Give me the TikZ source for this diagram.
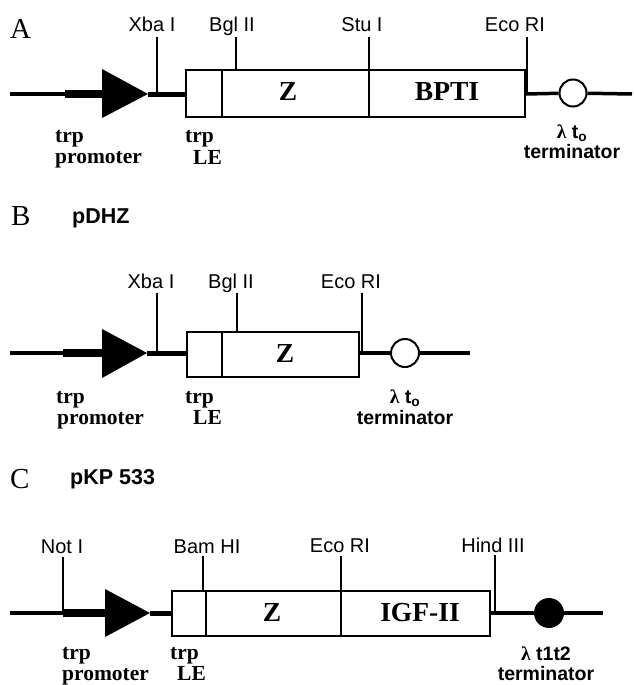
\documentclass[tikz,border=0pt]{standalone}
\usepackage{fontspec}
\usepackage{tikz}
\setmainfont{Liberation Serif}
\setsansfont{Liberation Sans}
\newcommand{\lamt}{{\rmfamily λ}~t\textsubscript{o}}

\begin{document}
\begin{tikzpicture}[x=1pt, y=-1pt,
    site/.style={font=\sffamily\fontsize{20}{20}\selectfont, anchor=base, inner sep=0pt},
    tag/.style={font=\bfseries\fontsize{21.5}{21.5}\selectfont, anchor=base west, inner sep=0pt},
    term/.style={font=\sffamily\bfseries\fontsize{19.5}{19.5}\selectfont, anchor=base, inner sep=0pt},
    gene/.style={font=\bfseries\fontsize{27.5}{27.5}\selectfont, anchor=base, inner sep=0pt},
    panel/.style={font=\fontsize{29}{29}\selectfont, anchor=base west, inner sep=0pt},
    title/.style={font=\sffamily\bfseries\fontsize{21.5}{21.5}\selectfont, anchor=base west, inner sep=0pt},
    dna/.style={line width=3.5pt},
    bar/.style={line width=8pt},
    link/.style={line width=5pt},
    box/.style={line width=2pt},
    tick/.style={line width=1.8pt},
    openterm/.style={circle, draw, line width=2pt, fill=white, minimum size=27pt, inner sep=0pt},
    fullterm/.style={circle, fill=black, minimum size=30pt, inner sep=0pt}]
  \useasboundingbox (0,0) rectangle (633,685);

  % ---------- A ----------
  \node[panel] (lA) at (10,38) {A};
  % backbone and promoter
  \coordinate (sA) at (10,94);
  \coordinate (pA) at (65,94);
  \coordinate (bA) at (102,94);
  \coordinate (tipA) at (148,94);
  \coordinate (eA) at (632,94);
  \draw[dna] (sA) -- (pA);
  \draw[bar] (pA) -- (bA);
  \fill (102,69) -- (102,118) -- (tipA) -- cycle;
  \draw[link] (tipA) -- (186,94);
  % gene box
  \draw[box] (186,70) rectangle (525,117);
  \draw[box] (222,70) -- (222,117);
  \node[gene] (zA) at (288,100) {Z};
  \node[gene] (bpti) at (447,100) {BPTI};
  % sites
  \node[site] (xbaA) at (152,32) {Xba I};
  \node[site] (bglA) at (232,32) {Bgl II};
  \node[site] (stuA) at (362,32) {Stu I};
  \node[site] (ecoA) at (515,32) {Eco RI};
  \draw[tick] (157,37) -- (157,94);
  \draw[tick] (236,37) -- (236,70);
  \draw[tick] (369,37) -- (369,117);
  \draw[tick] (527,37) -- (527,94);
  % terminator
  \node[openterm] (tA) at (573,93) {};
  \draw[dna] (525,94) -- (tA);
  \draw[dna] (tA) -- (eA);
  % labels
  \node[tag] (trpA) at (55,142.5) {trp};
  \node[tag] (promA) at (55,163) {promoter};
  \node[tag] (trpLA) at (185,142.5) {trp};
  \node[tag] (leA) at (193,164) {LE};
  \node[term] (lamA) at (572,138) {\lamt};
  \node[term] (termA) at (572,158) {terminator};

  % ---------- B ----------
  \node[panel] (lB) at (11,225) {B};
  \node[title] (pdhz) at (72,223) {pDHZ};
  % backbone and promoter
  \coordinate (sB) at (10,353);
  \coordinate (pB) at (63,353);
  \coordinate (bB) at (102,353);
  \coordinate (tipB) at (147,353);
  \coordinate (eB) at (470,353);
  \draw[dna] (sB) -- (pB);
  \draw[bar] (pB) -- (bB);
  \fill (102,329) -- (102,378) -- (tipB) -- cycle;
  \draw[link] (tipB) -- (187,353);
  % gene box
  \draw[box] (187,332) rectangle (359,377);
  \draw[box] (222,332) -- (222,377);
  \node[gene] (zB) at (285,362) {Z};
  % sites
  \node[site] (xbaB) at (151,288) {Xba I};
  \node[site] (bglB) at (231,288) {Bgl II};
  \node[site] (ecoB) at (351,288) {Eco RI};
  \draw[tick] (157,293) -- (157,353);
  \draw[tick] (237,293) -- (237,332);
  \draw[tick] (362,293) -- (362,353);
  % terminator
  \node[openterm, minimum size=28pt] (tB) at (405,353) {};
  \draw[dna] (359,353) -- (tB);
  \draw[dna] (tB) -- (eB);
  % labels
  \node[tag] (trpB) at (56,403) {trp};
  \node[tag] (promB) at (57,424) {promoter};
  \node[tag] (trpLB) at (185,403) {trp};
  \node[tag] (leB) at (193,424) {LE};
  \node[term] (lamB) at (405,403) {\lamt};
  \node[term] (termB) at (405,424) {terminator};

  % ---------- C ----------
  \node[panel] (lC) at (10,488) {C};
  \node[title] (pkp) at (70,484) {pKP 533};
  % backbone and promoter
  \coordinate (sC) at (10,613);
  \coordinate (pC) at (63,613);
  \coordinate (bC) at (105,613);
  \coordinate (tipC) at (150,613);
  \coordinate (eC) at (603,613);
  \draw[dna] (sC) -- (pC);
  \draw[bar] (pC) -- (bC);
  \fill (105,589) -- (105,637) -- (tipC) -- cycle;
  \draw[link] (tipC) -- (172,613);
  % gene box
  \draw[box] (172,591) rectangle (490,636);
  \draw[box] (206,591) -- (206,636);
  \node[gene] (zC) at (272,621) {Z};
  \node[gene] (igf) at (420,621) {IGF-II};
  % sites
  \node[site] (notC) at (62,553) {Not I};
  \node[site] (bamC) at (207,553) {Bam HI};
  \node[site] (ecoC) at (340,552) {Eco RI};
  \node[site] (hindC) at (493,552) {Hind III};
  \draw[tick] (63,557) -- (63,613);
  \draw[tick] (203,556) -- (203,591);
  \draw[tick] (341,556) -- (341,636);
  \draw[tick] (495,555) -- (495,613);
  % terminator
  \node[fullterm] (tC) at (549,613) {};
  \draw[dna] (490,613) -- (tC);
  \draw[dna] (tC) -- (eC);
  % labels
  \node[tag] (trpC) at (62,659) {trp};
  \node[tag] (promC) at (62,680) {promoter};
  \node[tag] (trpLC) at (170,659) {trp};
  \node[tag] (leC) at (177,680) {LE};
  \node[term] (lamC) at (546,660) {{\rmfamily λ}~t1t2};
  \node[term] (termC) at (546,680) {terminator};
\end{tikzpicture}
\end{document}
